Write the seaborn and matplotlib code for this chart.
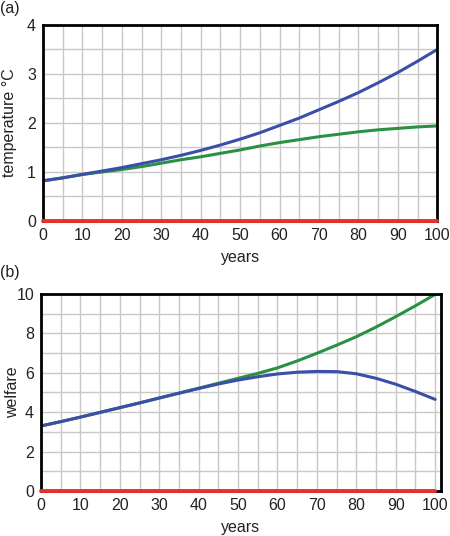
import matplotlib
matplotlib.use("Agg")
import matplotlib.pyplot as plt
import seaborn as sns
import pandas as pd

sns.set_theme(style="white")
plt.rcParams['font.family'] = ['Liberation Sans', 'DejaVu Sans']

years = [0, 5, 10, 15, 20, 25, 30, 35, 40, 45, 50,
         55, 60, 65, 70, 75, 80, 85, 90, 95, 100]
temp_blue = [0.82, 0.88, 0.95, 1.02, 1.09, 1.17, 1.25, 1.34, 1.44, 1.55, 1.67,
             1.80, 1.95, 2.10, 2.27, 2.44, 2.62, 2.82, 3.03, 3.26, 3.50]
temp_green = [0.82, 0.88, 0.95, 1.00, 1.05, 1.11, 1.18, 1.25, 1.31, 1.38, 1.45,
              1.53, 1.60, 1.66, 1.72, 1.77, 1.82, 1.86, 1.89, 1.92, 1.94]
temp_red = [0.0] * 21

welf_green = [3.30, 3.52, 3.75, 3.99, 4.23, 4.47, 4.72, 4.97, 5.22, 5.47, 5.72,
              5.97, 6.25, 6.60, 6.99, 7.40, 7.83, 8.32, 8.85, 9.40, 9.98]
welf_blue = [3.30, 3.52, 3.75, 3.99, 4.23, 4.47, 4.72, 4.96, 5.20, 5.43, 5.63,
             5.80, 5.94, 6.03, 6.07, 6.06, 5.95, 5.72, 5.42, 5.05, 4.65]
welf_red = [0.0] * 21

BLUE = "#3b4fa8"
GREEN = "#2a9144"
RED = "#e8312a"
GRID = "#c8c8c8"
TXT = "#222222"
FS = 11.5

fig = plt.figure(figsize=(4.5, 5.36), dpi=100)
ax1 = fig.add_axes([0.0956, 0.5877, 0.876, 0.3657])
ax2 = fig.add_axes([0.0911, 0.084, 0.889, 0.3675])

def style(ax, xmax, ymax, ystep):
    ax.set_xlim(0, xmax)
    ax.set_ylim(0, ymax)
    ax.set_xticks(range(0, 101, 10))
    ax.set_xticks(range(5, 101, 10), minor=True)
    ax.set_yticks(range(0, ymax + 1, ystep))
    ax.set_yticks([y + ystep / 2 for y in range(0, ymax, ystep)], minor=True)
    ax.grid(True, which='both', color=GRID, linewidth=1)
    ax.set_axisbelow(True)
    for s in ax.spines.values():
        s.set_color('black')
        s.set_linewidth(2)
    ax.tick_params(which='both', length=0, labelsize=FS, colors=TXT, pad=5)
    ax.set_xlabel('years', fontsize=FS, color=TXT, labelpad=5)

def draw(ax, blue, green, red):
    df = pd.DataFrame({'years': years, 'blue': blue, 'green': green, 'red': red})
    sns.lineplot(data=df, x='years', y='green', ax=ax, color=GREEN, linewidth=2.2)
    sns.lineplot(data=df, x='years', y='blue', ax=ax, color=BLUE, linewidth=2.2)
    l = sns.lineplot(data=df, x='years', y='red', ax=ax, color=RED, linewidth=2.8)
    l.lines[-1].set_clip_on(False)
    l.lines[-1].set_zorder(5)

draw(ax1, temp_blue, temp_green, temp_red)
style(ax1, 100, 4, 1)
ax1.set_ylabel('temperature °C', fontsize=FS, color=TXT)
ax1.yaxis.set_label_coords(-0.066, 0.5)

draw(ax2, welf_blue, welf_green, welf_red)
style(ax2, 101.5, 10, 2)
ax2.set_ylabel('welfare', fontsize=FS, color=TXT)
ax2.yaxis.set_label_coords(-0.052, 0.5)

fig.text(0.0, 0.998, '(a)', fontsize=FS, color=TXT, ha='left', va='top')
fig.text(0.0, 0.506, '(b)', fontsize=FS, color=TXT, ha='left', va='top')

fig.savefig('out.png', dpi=100)
